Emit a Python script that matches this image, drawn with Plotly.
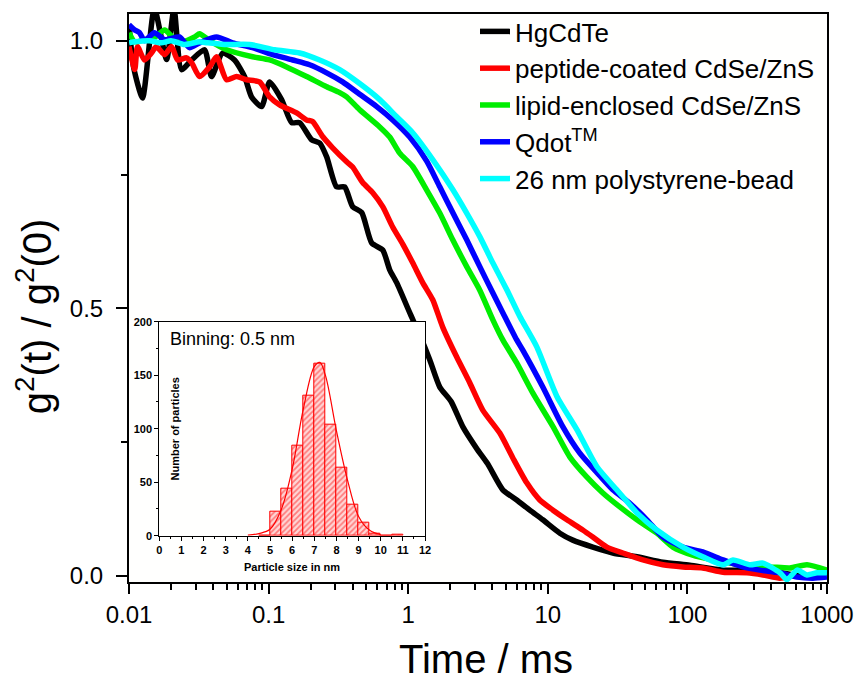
import plotly.graph_objects as go

# ---------------- data ----------------
black_t = [0.0100, 0.0108, 0.0125, 0.0152, 0.0186, 0.0210, 0.0238, 0.0281, 0.0348, 0.0390,
           0.0468, 0.0570, 0.0673, 0.0755, 0.0891, 0.1017, 0.1239, 0.1462, 0.1668, 0.2033,
           0.2320, 0.2606, 0.3070, 0.3505, 0.4000, 0.4642, 0.548, 0.657, 0.737, 0.827,
           1.025, 1.21, 1.426, 1.683, 2.03, 2.459, 3.097, 3.70, 4.76, 5.99,
           7.43, 9.21, 12.2, 15.1, 21.0, 29.2, 43.5, 66.7, 104, 180,
           267, 460, 794, 1000]
black_g = [1.03, 0.95, 0.893, 1.06, 0.965, 1.06, 0.946, 0.964, 0.983, 0.933,
           0.977, 0.964, 0.933, 0.895, 0.877, 0.923, 0.890, 0.847, 0.847, 0.815,
           0.809, 0.783, 0.727, 0.727, 0.690, 0.679, 0.622, 0.609, 0.572, 0.548,
           0.492, 0.450, 0.404, 0.353, 0.326, 0.279, 0.238, 0.210, 0.161, 0.142,
           0.123, 0.105, 0.080, 0.067, 0.054, 0.043, 0.036, 0.026, 0.020, 0.011,
           0.011, 0.006, -0.002, 0.006]

red_t = [0.0100, 0.0110, 0.0115, 0.0129, 0.0145, 0.0157, 0.0180, 0.0202, 0.0223, 0.0258,
         0.0281, 0.0320, 0.0378, 0.0424, 0.0500, 0.0590, 0.0695, 0.0861, 0.1017, 0.1199,
         0.1588, 0.1872, 0.2066, 0.2438, 0.2875, 0.3624, 0.4000, 0.4720, 0.557, 0.657,
         0.774, 0.914, 1.077, 1.270, 1.499, 1.767, 2.227, 2.76, 3.42, 4.53,
         5.61, 7.07, 8.76, 10.9, 13.7, 17.8, 21.0, 26.5, 34.5, 48.0,
         66.7, 92.9, 129, 180, 267, 348, 460, 540]
red_g = [0.989, 0.946, 0.989, 0.964, 0.977, 0.989, 0.974, 0.989, 0.964, 0.968,
         0.959, 0.933, 0.951, 0.970, 0.927, 0.933, 0.927, 0.923, 0.895, 0.880,
         0.865, 0.852, 0.849, 0.821, 0.800, 0.774, 0.764, 0.735, 0.716, 0.690,
         0.652, 0.620, 0.585, 0.548, 0.516, 0.465, 0.409, 0.361, 0.310, 0.267,
         0.221, 0.174, 0.142, 0.123, 0.105, 0.086, 0.073, 0.054, 0.043, 0.030,
         0.021, 0.017, 0.015, 0.007, 0.006, 0.002, -0.004, 0.000]

green_t = [0.0100, 0.0110, 0.0130, 0.0150, 0.0180, 0.0205, 0.0238, 0.0295, 0.0320, 0.0378,
           0.0500, 0.0768, 0.1017, 0.1346, 0.1872, 0.2606, 0.3228, 0.3624, 0.4490, 0.625,
           0.737, 0.869, 1.077, 1.357, 1.683, 2.084, 2.625, 3.257, 4.034, 4.76,
           5.99, 7.80, 10.9, 14.4, 19.0, 24.8, 32.8, 43.5, 60.4, 78.7,
           109, 152, 202, 281, 390, 543, 719, 1000]
green_g = [1.015, 0.998, 1.002, 1.005, 1.020, 1.007, 0.998, 1.007, 1.013, 1.000,
           0.983, 0.970, 0.964, 0.951, 0.933, 0.914, 0.903, 0.895, 0.871, 0.839,
           0.820, 0.790, 0.765, 0.721, 0.678, 0.628, 0.578, 0.534, 0.479, 0.441,
           0.398, 0.342, 0.279, 0.222, 0.185, 0.155, 0.129, 0.105, 0.080, 0.054,
           0.039, 0.030, 0.024, 0.017, 0.017, 0.015, 0.021, 0.011]

blue_t = [0.0100, 0.0110, 0.0119, 0.0129, 0.0152, 0.0180, 0.0230, 0.0271, 0.0320, 0.0424,
          0.0552, 0.0768, 0.1068, 0.1486, 0.1967, 0.2606, 0.3390, 0.4490, 0.595, 0.774,
          1.025, 1.357, 1.683, 2.084, 2.625, 3.257, 4.034, 4.76, 5.99, 6.62,
          9.21, 12.8, 16.9, 22.5, 29.2, 38.7, 51.3, 66.7, 92.9, 129,
          180, 250, 331, 460, 610, 794, 1000]
blue_g = [1.030, 1.020, 1.015, 1.000, 1.015, 1.002, 1.007, 0.987, 0.996, 1.007,
          0.996, 0.987, 0.974, 0.964, 0.955, 0.940, 0.923, 0.900, 0.877, 0.852,
          0.820, 0.775, 0.727, 0.679, 0.628, 0.578, 0.529, 0.492, 0.441, 0.422,
          0.353, 0.279, 0.230, 0.193, 0.161, 0.136, 0.105, 0.073, 0.054, 0.045,
          0.030, 0.017, 0.011, 0.006, -0.002, -0.004, -0.002]

cyan_t = [0.0100, 0.0110, 0.0140, 0.0170, 0.0200, 0.0250, 0.0320, 0.0365, 0.0484, 0.0731,
          0.1104, 0.1668, 0.2320, 0.3228, 0.4490, 0.625, 0.827, 1.077, 1.499, 2.084,
          2.625, 3.257, 4.034, 5.08, 6.30, 8.34, 11.6, 16.2, 22.5, 31.2,
          43.5, 60.4, 92.9, 129, 180, 212, 281, 348, 460, 516,
          610, 719, 848, 1000]
cyan_g = [0.996, 0.998, 1.000, 0.996, 1.000, 0.993, 0.998, 0.996, 0.993, 0.993,
          0.983, 0.977, 0.964, 0.946, 0.920, 0.890, 0.858, 0.828, 0.778, 0.722,
          0.678, 0.634, 0.585, 0.535, 0.485, 0.428, 0.336, 0.273, 0.204, 0.161,
          0.118, 0.086, 0.054, 0.036, 0.021, 0.030, 0.021, 0.024, 0.006, -0.007,
          0.011, 0.002, 0.006, 0.006]

series_names = ["HgCdTe", "peptide-coated CdSe/ZnS", "lipid-enclosed CdSe/ZnS",
                "Qdot<sup>TM</sup>", "26 nm polystyrene-bead"]
series_colors = ["#000000", "#ff0000", "#00ee00", "#0000ff", "#00ffff"]

# inset histogram (bin width 0.5 nm)
bin_centers = [4.75, 5.25, 5.75, 6.25, 6.75, 7.25, 7.75, 8.25, 8.75, 9.25, 9.75, 10.25, 10.75]
bin_counts = [0, 22, 44, 84, 131, 161, 104, 64, 29, 12, 2, 0, 1]
fit_x = [4.0, 4.5, 5.0, 5.5, 6.0, 6.5, 7.0, 7.25, 7.5, 8.0, 8.5, 9.0, 9.5, 10.0]
fit_y = [0.5, 2, 6, 24, 62, 118, 158, 162, 150, 98, 52, 18, 5, 1]

x_tickvals = [0.01, 0.1, 1, 10, 100, 1000]
x_ticktext = ["0.01", "0.1", "1", "10", "100", "1000"]
y_tickvals = [0.0, 0.5, 1.0]
y_ticktext = ["0.0", "0.5", "1.0"]

# ---------------- figure ----------------
FONT = "Liberation Sans, Arial, sans-serif"
fig = go.Figure()

all_t = [black_t, red_t, green_t, blue_t, cyan_t]
all_g = [black_g, red_g, green_g, blue_g, cyan_g]
for t, g, name, col in zip(all_t, all_g, series_names, series_colors):
    fig.add_trace(go.Scatter(x=t, y=g, mode="lines", name=name,
                             line=dict(color=col, width=5.5, shape="spline", smoothing=0.6),
                             xaxis="x", yaxis="y"))

fig.add_trace(go.Bar(x=bin_centers, y=bin_counts, width=0.5, showlegend=False,
                     marker=dict(color="#ffcccc",
                                 line=dict(color="#ff0000", width=1),
                                 pattern=dict(shape="/", fgcolor="#ff2020",
                                              bgcolor="#ffd6d6", size=4, solidity=0.45)),
                     xaxis="x2", yaxis="y2"))
fig.add_trace(go.Scatter(x=fit_x, y=fit_y, mode="lines", showlegend=False,
                         line=dict(color="#ff0000", width=1.2, shape="spline"),
                         xaxis="x2", yaxis="y2"))

minor_x = [m * 10.0 ** e for e in range(-2, 3) for m in range(2, 10)]

axis_common = dict(showline=True, linecolor="black", linewidth=2, mirror=True,
                   ticks="outside", tickwidth=2, tickcolor="black",
                   showgrid=False, zeroline=False,
                   tickfont=dict(family=FONT, size=24, color="black"))

fig.update_layout(
    width=859, height=683,
    margin=dict(l=129, r=32, t=14, b=101, autoexpand=False),
    paper_bgcolor="#ffffff", plot_bgcolor="#fffffe",
    font=dict(family=FONT, color="black"),
    xaxis=dict(type="log", range=[-2, 3], domain=[0, 1], anchor="y",
               tickmode="array", tickvals=x_tickvals, ticktext=x_ticktext, ticklen=10,
               minor=dict(tickmode="array", tickvals=minor_x, ticks="outside",
                          ticklen=6, tickwidth=2, tickcolor="black", showgrid=False),
               **axis_common),
    yaxis=dict(range=[-0.0112, 1.0499], domain=[0, 1], anchor="x",
               tickmode="array", tickvals=y_tickvals, ticktext=y_ticktext, ticklen=11,
               ticklabelstandoff=8,
               minor=dict(tickmode="array", tickvals=[0.25, 0.75], ticks="outside",
                          ticklen=6, tickwidth=2, tickcolor="black", showgrid=False),
               **axis_common),
    xaxis2=dict(domain=[0.0434, 0.4241], anchor="y2", range=[0, 12],
                tickmode="linear", tick0=0, dtick=1, ticks="outside", ticklen=4,
                tickwidth=1, tickcolor="black",
                minor=dict(dtick=0.5, ticks="outside", ticklen=2, tickwidth=1,
                           tickcolor="black", showgrid=False),
                showline=True, linecolor="black", linewidth=1, mirror=True,
                showgrid=False, zeroline=False,
                tickfont=dict(family=FONT, size=11, color="black", weight="bold")),
    yaxis2=dict(domain=[0.0815, 0.4583], anchor="x2", range=[0, 200],
                tickmode="linear", tick0=0, dtick=50, ticks="outside", ticklen=4,
                tickwidth=1, tickcolor="black",
                minor=dict(dtick=25, ticks="outside", ticklen=2, tickwidth=1,
                           tickcolor="black", showgrid=False),
                showline=True, linecolor="black", linewidth=1, mirror=True,
                showgrid=False, zeroline=False,
                tickfont=dict(family=FONT, size=11, color="black", weight="bold")),
    legend=dict(x=0.4957, y=1.0106, xanchor="left", yanchor="top",
                bgcolor="rgba(0,0,0,0)", borderwidth=0,
                font=dict(family=FONT, size=26, color="black"),
                tracegroupgap=0),
    bargap=0,
    showlegend=True,
)

annotations = [
    dict(text="g<sup>2</sup>(t) / g<sup>2</sup>(0)", xref="paper", yref="paper",
         x=-0.136, y=0.468, xanchor="center", yanchor="middle", textangle=-90,
         showarrow=False, font=dict(family=FONT, size=40, color="black")),
    dict(text="Time / ms", xref="paper", yref="paper",
         x=0.511, y=-0.1775, xanchor="center", yanchor="bottom",
         showarrow=False, font=dict(family=FONT, size=40, color="black")),
    dict(text="Particle size in nm", xref="paper", yref="paper",
         x=0.233, y=0.0264, xanchor="center", yanchor="middle",
         showarrow=False, font=dict(family=FONT, size=11, color="black", weight="bold")),
    dict(text="Number of particles", xref="x2", yref="y2",
         x=0.7, y=100, xanchor="center", yanchor="middle", textangle=-90,
         showarrow=False, font=dict(family=FONT, size=11, color="black", weight="bold")),
    dict(text="Binning: 0.5 nm", xref="x2", yref="y2",
         x=0.4, y=184, xanchor="left", yanchor="middle",
         showarrow=False, font=dict(family=FONT, size=18, color="black")),
]
fig.update_layout(annotations=annotations)

fig.write_html("out.html")
